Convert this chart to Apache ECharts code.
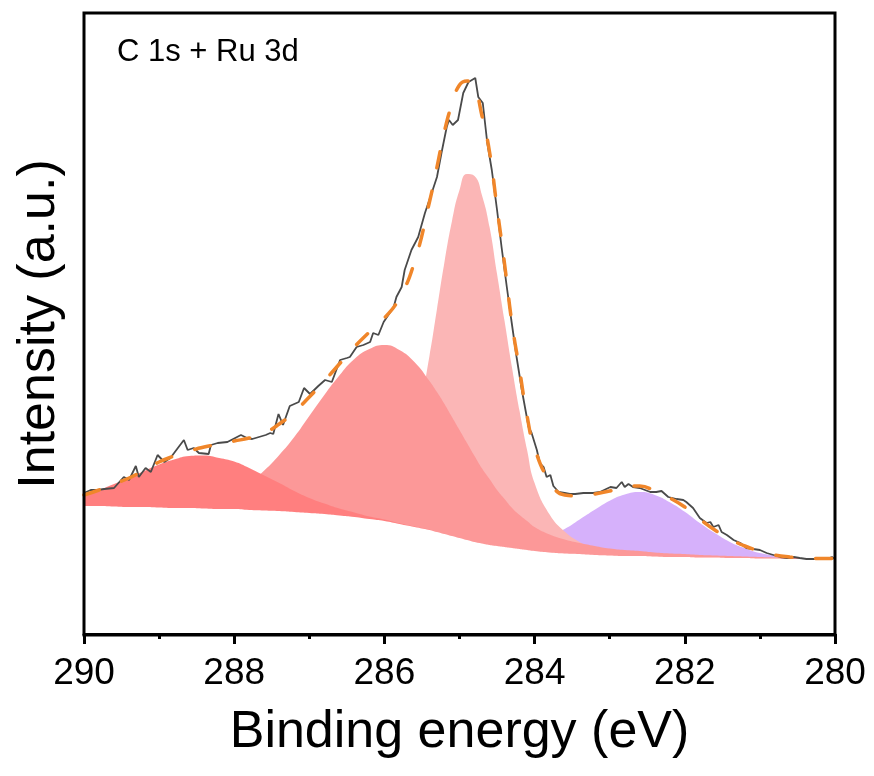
<!DOCTYPE html>
<html>
<head>
<meta charset="utf-8">
<script src="https://cdn.jsdelivr.net/npm/echarts@6/dist/echarts.min.js"></script>
<style>
html, body { margin: 0; padding: 0; background: #fff; }
#chartBox { width: 874px; height: 776px; }
</style>
</head>
<body>
<div id="chartBox"></div>
<script>
// binding energy grid for the fit curves (eV), denser around the main peak
const energy = [290.0, 289.8, 289.6, 289.4, 289.2, 289.0, 288.8, 288.6, 288.4, 288.2,
  288.0, 287.8, 287.6, 287.4, 287.2, 287.0, 286.8, 286.6, 286.4, 286.2,
  286.0, 285.8, 285.6, 285.4, 285.3, 285.2, 285.1, 285.0, 284.9, 284.8,
  284.7, 284.6, 284.5, 284.4, 284.3, 284.2, 284.1, 284.0, 283.8, 283.6,
  283.4, 283.2, 283.0, 282.8, 282.6, 282.4, 282.2, 282.0, 281.8, 281.6,
  281.4, 281.2, 281.0, 280.8, 280.6, 280.4, 280.2, 280.0];

// Shirley background
const background = [128, 128, 127.5, 127, 127, 126.5, 126, 126, 125.5, 125,
  125, 124, 123.5, 123, 122, 121, 120, 118.5, 117, 115,
  113, 110, 107, 104, 102, 100, 98, 96, 94, 92,
  90.5, 89, 88, 87, 86, 85, 84, 83, 81.5, 80.5,
  80, 79, 78.5, 78, 78, 77.5, 77, 77, 76.5, 76.5,
  76, 76, 75.5, 75.5, 75, 75, 75, 75];

// fitted components (height above background)
const peak288 = [11, 16, 22.5, 29, 36, 43, 48.5, 52, 53, 51,
  47.5, 42, 35, 28, 21, 15, 10.5, 7, 4.5, 2.5,
  1.5, 0.7, 0.4, 0.2, 0.1, 0, 0, 0, 0, 0,
  0, 0, 0, 0, 0, 0, 0, 0, 0, 0,
  0, 0, 0, 0, 0, 0, 0, 0, 0, 0,
  0, 0, 0, 0, 0, 0, 0, 0];
const peak286 = [0, 0, 0.1, 0.3, 0.6, 1.1, 2.1, 3.9, 6.8, 11.3,
  18, 27.5, 40, 56, 75, 97, 119, 140, 158, 170,
  176, 174, 165, 149, 140, 130, 119, 108, 97, 86,
  75, 66, 56, 48, 40, 34, 29, 24, 18, 14,
  11, 9, 7, 6, 5, 4, 3.5, 3, 2.5, 2,
  2, 1.5, 1.5, 1, 1, 1, 0.5, 0.5];
const peak2848 = [0, 0, 0, 0, 0, 0, 0, 0, 0, 0,
  0, 0, 0, 0, 0, 0, 0, 0.5, 2, 6,
  17, 42, 92, 174, 223, 272, 315, 348, 366, 366,
  348, 318, 272, 226, 180, 138, 100, 68, 38, 22,
  12, 6, 3, 1.5, 0.5, 0, 0, 0, 0, 0,
  0, 0, 0, 0, 0, 0, 0, 0];
const peak2826 = [0, 0, 0, 0, 0, 0, 0, 0, 0, 0,
  0, 0, 0, 0, 0, 0, 0, 0, 0, 0,
  0, 0, 0, 0, 0, 0, 0, 0, 0.4, 0.6,
  1, 1.4, 2, 2.8, 4, 5.4, 7.5, 9.7, 16, 24.4,
  34.5, 45.2, 54.8, 61.6, 64, 61.6, 54.8, 45.2, 34.5, 24.4,
  16, 9.7, 5.4, 2.8, 1.4, 0.6, 0.2, 0];

// cumulative fit envelope
const envelope = [139, 144, 150, 156, 164, 172, 178, 183, 187, 190,
  193, 196, 201, 210, 222, 237, 253, 270, 287, 302,
  316, 336, 372, 432, 467, 503, 530, 549, 553, 546,
  518, 482, 426, 370, 310, 264, 218, 186, 153, 139,
  138, 140, 143, 147, 148, 143, 136, 127, 115, 104,
  95, 88, 83, 79, 77, 76, 75.5, 75.5];

// measured spectrum
const rawE = [290.00, 289.91, 289.82, 289.73, 289.60, 289.47, 289.40, 289.31, 289.27, 289.18,
  289.11, 289.02, 288.93, 288.85, 288.67, 288.62, 288.54, 288.47, 288.34, 288.31,
  288.22, 288.09, 287.91, 287.83, 287.76, 287.67, 287.58, 287.52, 287.48, 287.41,
  287.35, 287.26, 287.14, 287.07, 286.99, 286.88, 286.79, 286.70, 286.59, 286.50,
  286.46, 286.37, 286.28, 286.19, 286.15, 286.08, 286.01, 285.93, 285.88, 285.84,
  285.77, 285.73, 285.64, 285.55, 285.46, 285.37, 285.30, 285.24, 285.17, 285.14,
  285.09, 285.02, 284.95, 284.88, 284.79, 284.75, 284.69, 284.63, 284.57, 284.50,
  284.44, 284.37, 284.31, 284.24, 284.17, 284.08, 284.04, 283.97, 283.93, 283.88,
  283.84, 283.79, 283.75, 283.68, 283.60, 283.53, 283.46, 283.35, 283.22, 283.13,
  282.99, 282.91, 282.84, 282.80, 282.75, 282.69, 282.60, 282.53, 282.46, 282.38,
  282.31, 282.22, 282.11, 282.02, 281.98, 281.89, 281.80, 281.71, 281.66, 281.62,
  281.55, 281.51, 281.44, 281.35, 281.26, 281.18, 281.09, 281.00, 280.91, 280.82,
  280.73, 280.64, 280.55, 280.47, 280.38, 280.29, 280.11, 280.04, 280.00];
const rawI = [141, 144, 144, 145, 146, 157, 154, 168, 157, 166,
  162, 179, 172, 176, 194, 184, 186, 181, 180, 189,
  191, 192, 199, 196, 195, 197, 199, 201, 200, 220,
  209, 228, 232, 246, 240, 248, 254, 252, 274, 276,
  277, 287, 289, 292, 301, 299, 312, 321, 326, 337,
  347, 364, 384, 397, 421, 441, 457, 481, 507, 514,
  509, 514, 541, 552, 556, 537, 531, 491, 464, 424,
  387, 347, 314, 277, 244, 207, 201, 184, 171, 167,
  157, 159, 148, 142, 141, 140, 140, 141, 141, 142,
  147, 146, 152, 147, 150, 147, 146, 144, 142, 142,
  143, 137, 135, 134, 132, 126, 116, 111, 112, 107,
  109, 102, 99, 94, 91, 86, 85, 84, 81, 79,
  77, 76, 77, 76, 75, 75, 75, 77, 75];

const xTicks = [290, 288, 286, 284, 282, 280];

const font = 'Liberation Sans, Arial, Helvetica, sans-serif';
const base = 60; // fills start below the lowest background level

let myChart = echarts.init(document.getElementById('chartBox'));

let peaks = [
  { data: peak2826, color: '#D6B1FB' },
  { data: peak2848, color: '#FBB6B6' },
  { data: peak286, color: '#FC9898' },
  { data: peak288, color: '#FF7F7F' }
];

let series = [];
peaks.forEach(function (p) {
  series.push({
    type: 'line',
    smooth: true,
    showSymbol: false,
    silent: true,
    data: energy.map(function (e, i) { return [e, background[i] + p.data[i]]; }),
    lineStyle: { width: 0 },
    areaStyle: { color: p.color, opacity: 1, origin: base }
  });
});
// white mask below the background line
series.push({
  type: 'line',
  smooth: true,
  showSymbol: false,
  silent: true,
  data: energy.map(function (e, i) { return [e, background[i]]; }),
  lineStyle: { width: 0 },
  areaStyle: { color: '#ffffff', opacity: 1, origin: base }
});
series.push({
  type: 'line',
  showSymbol: false,
  data: rawE.map(function (e, i) { return [e, rawI[i]]; }),
  lineStyle: { color: '#4a4a4a', width: 1.8 }
});
series.push({
  type: 'line',
  smooth: true,
  showSymbol: false,
  data: energy.map(function (e, i) { return [e, envelope[i]]; }),
  lineStyle: { color: '#F0862A', width: 3.5, type: [16, 24], cap: 'round' }
});

myChart.setOption({
  animation: false,
  grid: { left: 84, right: 39, top: 13, bottom: 141 },
  xAxis: {
    type: 'value',
    min: 280,
    max: 290,
    interval: 2,
    inverse: true,
    name: 'Binding energy (eV)',
    nameLocation: 'middle',
    nameGap: 72,
    nameTextStyle: { fontSize: 52, fontFamily: font, color: '#000' },
    axisLine: { lineStyle: { color: '#000', width: 3 } },
    axisTick: { length: 10, lineStyle: { color: '#000', width: 3 } },
    minorTick: { show: true, splitNumber: 2, length: 5, lineStyle: { color: '#000', width: 3 } },
    splitLine: { show: false },
    axisLabel: {
      margin: 20,
      fontSize: 37,
      fontFamily: font,
      color: '#000',
      formatter: function (v) { return xTicks.indexOf(v) >= 0 ? String(v) : ''; }
    }
  },
  yAxis: {
    type: 'value',
    min: -1,
    max: 621,
    name: 'Intensity (a.u.)',
    nameLocation: 'middle',
    nameGap: 18,
    nameTextStyle: { fontSize: 52, fontFamily: font, color: '#000' },
    axisLine: { show: false },
    axisTick: { show: false },
    axisLabel: { show: false },
    splitLine: { show: false }
  },
  graphic: [{
    type: 'rect',
    z: 100,
    shape: { x: 84, y: 13, width: 751, height: 622 },
    style: { fill: 'none', stroke: '#000', lineWidth: 3 }
  }, {
    type: 'text',
    x: 117,
    y: 52,
    style: {
      text: 'C 1s + Ru 3d',
      fontSize: 31,
      fontFamily: font,
      fill: '#000',
      verticalAlign: 'middle'
    }
  }],
  series: series
});
</script>
</body>
</html>
